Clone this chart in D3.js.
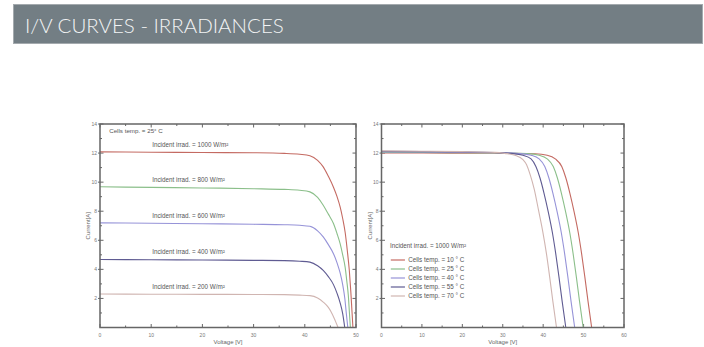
<!DOCTYPE html>
<html>
<head>
<meta charset="utf-8">
<script src="https://cdn.jsdelivr.net/npm/d3@7"></script>
<style>
  body { margin: 0; background: #fff; }
  svg { display: block; }
  text { font-family: "Liberation Sans", Arial, sans-serif; }
</style>
</head>
<body>
<svg id="chart" width="704" height="347"></svg>
<script>
// title
var headerTitle = "I/V CURVES - IRRADIANCES";

// left panel: irradiance at 25 C
var irradLabels = ["Incident irrad. = 1000 W/m²", "Incident irrad. = 800 W/m²", "Incident irrad. = 600 W/m²",
                   "Incident irrad. = 400 W/m²", "Incident irrad. = 200 W/m²"];
var irrad1000 = [[0,12.08],[10,12.06],[20,12.04],[30,12.02],[36,11.98],[39,11.92],[41,11.82],[42.5,11.5],[43.6,11.05],
                 [44.6,10.4],[45.6,9.65],[46.3,9.0],[46.9,8.3],[47.4,7.5],[47.9,6.5],[48.3,5.3],[48.7,3.9],[49.0,2.4],[49.2,1.2],[49.4,0]];
var irrad800 = [[0,9.68],[10,9.64],[20,9.6],[30,9.55],[36,9.5],[39,9.44],[41,9.33],[42.5,8.95],[43.6,8.41],[44.6,7.8],
                [45.6,7.15],[46.3,6.45],[46.9,5.77],[47.4,5.0],[47.9,4.1],[48.2,3.2],[48.5,2.2],[48.7,1.1],[48.9,0]];
var irrad600 = [[0,7.2],[10,7.17],[20,7.14],[30,7.1],[36,7.07],[39,7.03],[41,6.96],[42.5,6.65],[43.6,6.23],[44.6,5.7],
                [45.6,5.08],[46.3,4.45],[46.9,3.75],[47.4,2.95],[47.8,2.05],[48.1,1.0],[48.4,0]];
var irrad400 = [[0,4.68],[10,4.66],[20,4.64],[30,4.62],[36,4.6],[39,4.56],[41,4.5],[42.5,4.25],[43.6,3.93],[44.6,3.5],
                [45.6,2.95],[46.3,2.35],[46.9,1.7],[47.4,0.95],[47.8,0]];
var irrad200 = [[0,2.3],[10,2.29],[20,2.28],[30,2.27],[36,2.26],[39,2.23],[41,2.19],[42.5,2.03],[43.6,1.75],[44.6,1.38],
                [45.4,0.9],[46.0,0.42],[46.5,0]];
var irradColors = ["#c46a62", "#8bbf8a", "#9693d8", "#5f5b92", "#d0b5b1"];

// right panel: temperature at 1000 W/m2
var tempTitle = "Incident irrad. = 1000 W/m²";
var tempLabels = ["Cells temp. = 10 ° C", "Cells temp. = 25 ° C", "Cells temp. = 40 ° C",
                  "Cells temp. = 55 ° C", "Cells temp. = 70 ° C"];
var temp10 = [[0,12.0],[10,12.0],[20,11.99],[30,11.98],[38,11.95],[41,11.85],[43,11.6],[44.6,11.07],[45.6,10.3],
              [46.6,9.25],[47.7,7.9],[48.7,6.5],[49.5,5.1],[50.3,3.5],[51.1,1.8],[52.0,0]];
var temp25 = [[0,12.05],[10,12.04],[20,12.02],[30,12.0],[36,11.96],[39,11.85],[41,11.6],[42.5,11.07],[43.5,10.3],
              [44.5,9.25],[45.6,7.9],[46.6,6.5],[47.4,5.1],[48.2,3.5],[49.0,1.8],[49.9,0]];
var temp40 = [[0,12.08],[10,12.07],[20,12.05],[30,12.02],[34,11.97],[37,11.85],[39,11.6],[40.4,11.07],[41.4,10.3],
              [42.4,9.25],[43.5,7.9],[44.5,6.5],[45.3,5.1],[46.1,3.5],[46.9,1.8],[47.8,0]];
var temp55 = [[0,12.12],[10,12.1],[20,12.08],[28,12.04],[32,11.98],[35,11.85],[37,11.6],[38.2,11.07],[39.2,10.3],
              [40.2,9.25],[41.3,7.9],[42.3,6.5],[43.1,5.1],[43.9,3.5],[44.7,1.8],[45.6,0]];
var temp70 = [[0,12.15],[10,12.13],[20,12.1],[28,12.05],[30.5,11.98],[33,11.85],[35,11.55],[35.9,11.2],[36.8,10.5],
              [37.8,9.5],[38.9,8.0],[39.9,6.6],[40.8,5.1],[41.6,3.5],[42.4,1.8],[43.3,0]];
var tempColors = ["#c46a62", "#8bbf8a", "#9693d8", "#5f5b92", "#d0b5b1"];

var svg = d3.select("#chart");

// header bar
svg.append("rect")
    .attr("x", 13.5).attr("y", 4.5).attr("width", 689).attr("height", 39)
    .attr("fill", "#737e84").attr("stroke", "#a4aaae");
svg.append("text")
    .attr("x", 25).attr("y", 33)
    .attr("fill", "#f2f4f5")
    .style("font-family", "Lato, sans-serif").style("font-weight", 300).style("font-size", "20.5px")
    .text(headerTitle);

function drawPanel(opt) {
    var x = d3.scaleLinear().domain([0, opt.xMax]).range([opt.left, opt.right]);
    var y = d3.scaleLinear().domain([0, 14]).range([327.5, 124]);
    var g = svg.append("g");

    // ticks on all four sides, pointing inward
    var xMinor = d3.range(5, opt.xMax, 10);
    var xMajor = d3.range(0, opt.xMax + 1, 10);
    var yMinor = d3.range(1, 14, 2);
    var yMajor = d3.range(2, 15, 2);
    var tickColor = "#666";
    g.selectAll(".xt").data(xMajor.map(function (d) { return [d, 3.5]; }).concat(xMinor.map(function (d) { return [d, 2]; })))
        .enter().each(function (d) {
            g.append("line").attr("x1", x(d[0])).attr("x2", x(d[0])).attr("y1", y(0)).attr("y2", y(0) - d[1]).attr("stroke", tickColor);
            g.append("line").attr("x1", x(d[0])).attr("x2", x(d[0])).attr("y1", y(14)).attr("y2", y(14) + d[1]).attr("stroke", tickColor);
        });
    g.selectAll(".yt").data(yMajor.map(function (d) { return [d, 3.5]; }).concat(yMinor.map(function (d) { return [d, 2]; })))
        .enter().each(function (d) {
            g.append("line").attr("x1", x(0) - (d[1] > 3 ? 2 : 0)).attr("x2", x(0) + d[1]).attr("y1", y(d[0])).attr("y2", y(d[0])).attr("stroke", tickColor);
            g.append("line").attr("x1", x(opt.xMax)).attr("x2", x(opt.xMax) - d[1]).attr("y1", y(d[0])).attr("y2", y(d[0])).attr("stroke", tickColor);
        });

    // tick labels
    g.selectAll(".xl").data(xMajor).enter().append("text")
        .attr("x", function (d) { return x(d); }).attr("y", y(0) + 9)
        .attr("text-anchor", "middle").attr("font-size", 5).attr("fill", "#777")
        .text(function (d) { return d; });
    g.selectAll(".yl").data(yMajor).enter().append("text")
        .attr("x", x(0) - 3).attr("y", function (d) { return y(d) + 1.8; })
        .attr("text-anchor", "end").attr("font-size", 5).attr("fill", "#777")
        .text(function (d) { return d; });

    // axis titles
    g.append("text")
        .attr("x", (x(0) + x(opt.xMax)) / 2).attr("y", 344)
        .attr("text-anchor", "middle").attr("font-size", 6).attr("fill", "#666")
        .text("Voltage [V]");
    g.append("text")
        .attr("transform", "translate(" + (x(0) - 10) + "," + y(7) + ") rotate(-90)")
        .attr("text-anchor", "middle").attr("font-size", 6).attr("fill", "#666")
        .text("Current[A]");

    // curves
    var line = d3.line()
        .x(function (d) { return x(d[0]); })
        .y(function (d) { return y(d[1]); })
        .curve(d3.curveMonotoneX);
    g.selectAll(".curve").data(opt.series).enter().append("path")
        .attr("d", line)
        .attr("fill", "none")
        .attr("stroke", function (d, i) { return opt.colors[i]; })
        .attr("stroke-width", 1.1);

    // frame
    g.append("rect")
        .attr("x", x(0)).attr("y", y(14))
        .attr("width", x(opt.xMax) - x(0)).attr("height", y(0) - y(14))
        .attr("fill", "none").attr("stroke", "#666").attr("stroke-width", 1.5);

    return { x: x, y: y, g: g };
}

// left panel
var left = drawPanel({
    left: 100, right: 356, xMax: 50,
    series: [irrad1000, irrad800, irrad600, irrad400, irrad200],
    colors: irradColors
});
left.g.append("text")
    .attr("x", left.x(1.8)).attr("y", left.y(13.35))
    .attr("font-size", 6.2).attr("fill", "#555")
    .text("Cells temp. = 25° C");
left.g.selectAll(".il").data([irrad1000, irrad800, irrad600, irrad400, irrad200]).enter().append("text")
    .attr("x", left.x(10.2))
    .attr("y", function (d) { return left.y(d[0][1] + 0.5) + 2; })
    .attr("font-size", 6.3).attr("fill", "#555")
    .text(function (d, i) { return irradLabels[i]; });

// right panel
var right = drawPanel({
    left: 381.5, right: 624, xMax: 60,
    series: [temp10, temp25, temp40, temp55, temp70],
    colors: tempColors
});
right.g.append("text")
    .attr("x", right.x(2.1)).attr("y", right.y(5.45))
    .attr("font-size", 6.3).attr("fill", "#555")
    .text(tempTitle);
var legend = right.g.selectAll(".lg").data(tempLabels).enter().append("g")
    .attr("transform", function (d, i) { return "translate(0," + (260 + i * 9) + ")"; });
legend.append("line")
    .attr("x1", right.x(2.3)).attr("x2", right.x(5.8))
    .attr("stroke", function (d, i) { return tempColors[i]; }).attr("stroke-width", 1.2);
legend.append("text")
    .attr("x", right.x(6.6)).attr("y", 2.2)
    .attr("font-size", 6.3).attr("fill", "#555")
    .text(function (d) { return d; });
</script>
</body>
</html>
